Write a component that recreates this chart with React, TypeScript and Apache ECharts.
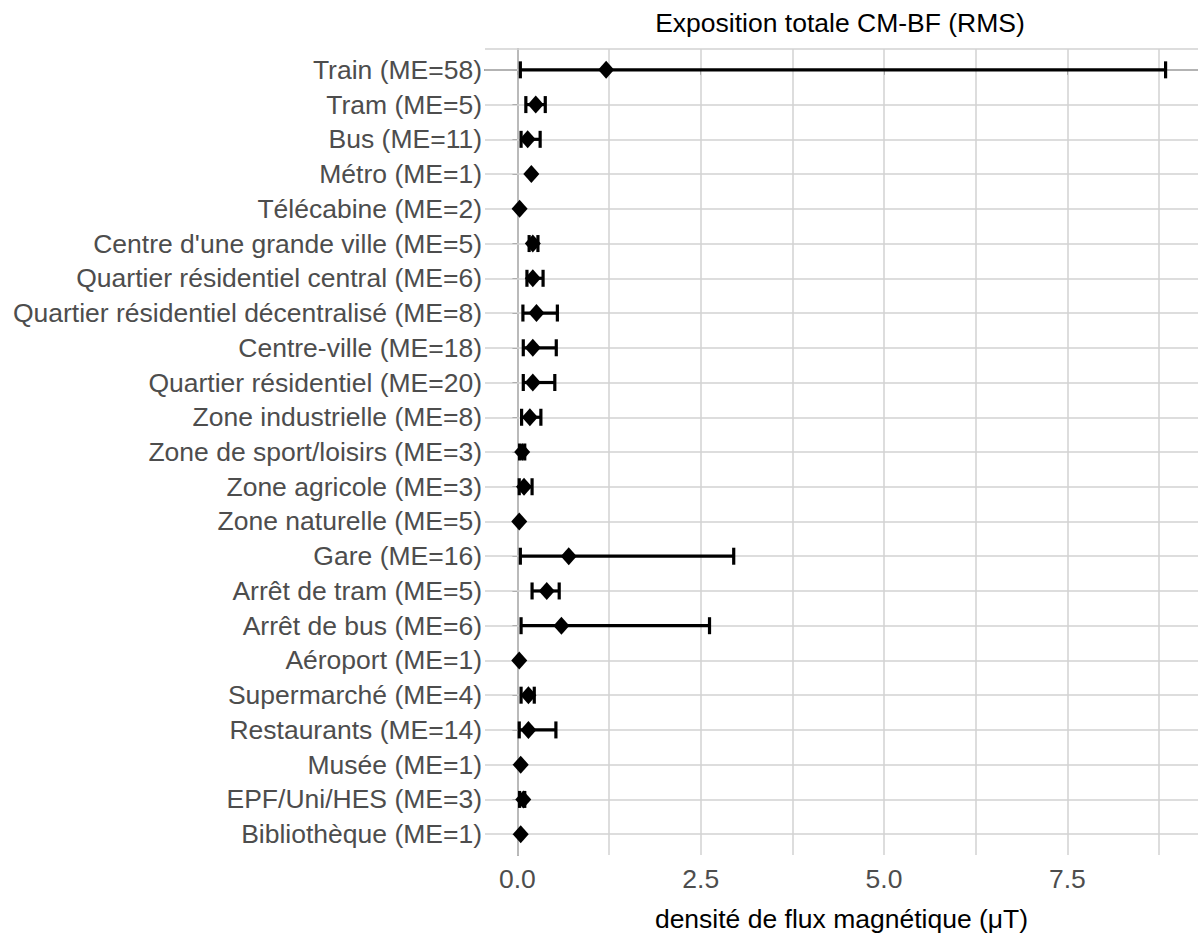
import React, { useEffect, useRef } from "react";
import * as echarts from "echarts";

const categories = [
  "Train (ME=58)",
  "Tram (ME=5)",
  "Bus (ME=11)",
  "Métro (ME=1)",
  "Télécabine (ME=2)",
  "Centre d'une grande ville (ME=5)",
  "Quartier résidentiel central (ME=6)",
  "Quartier résidentiel décentralisé (ME=8)",
  "Centre-ville (ME=18)",
  "Quartier résidentiel (ME=20)",
  "Zone industrielle (ME=8)",
  "Zone de sport/loisirs (ME=3)",
  "Zone agricole (ME=3)",
  "Zone naturelle (ME=5)",
  "Gare (ME=16)",
  "Arrêt de tram (ME=5)",
  "Arrêt de bus (ME=6)",
  "Aéroport (ME=1)",
  "Supermarché (ME=4)",
  "Restaurants (ME=14)",
  "Musée (ME=1)",
  "EPF/Uni/HES (ME=3)",
  "Bibliothèque (ME=1)",
];

const means = [1.21, 0.25, 0.14, 0.19, 0.03, 0.21, 0.21, 0.26, 0.21, 0.21, 0.17, 0.065, 0.09, 0.025, 0.7, 0.4, 0.6, 0.025, 0.15, 0.15, 0.045, 0.08, 0.045];
const lows: (number | null)[] = [0.04, 0.115, 0.05, null, null, 0.16, 0.13, 0.075, 0.08, 0.08, 0.057, 0.03, 0.025, null, 0.04, 0.2, 0.05, null, 0.05, 0.025, null, 0.03, null];
const highs: (number | null)[] = [8.84, 0.38, 0.31, null, null, 0.28, 0.35, 0.545, 0.53, 0.51, 0.32, 0.1, 0.2, null, 2.95, 0.57, 2.62, null, 0.23, 0.525, null, 0.1, null];

const xTicks = [0, 2.5, 5, 7.5];
const xMinorTicks = [1.25, 3.75, 6.25, 8.75];
const titleText = "Exposition totale CM-BF (RMS)";
const xTitle = "densité de flux magnétique (μT)";

const FONT = "Liberation Sans";
const FS = 26.5;

export default function App() {
  const ref = useRef<HTMLDivElement>(null);
  useEffect(() => {
    document.body.style.margin = "0";
    const chart = echarts.init(ref.current!, null, { renderer: "svg" });
    const idx = categories.map((_, i) => i);
    const errData: any[] = [];
    idx.forEach((i) => {
      if (lows[i] != null && highs[i] != null) errData.push([lows[i], highs[i], i]);
    });
    const gridLines: any[] = [];
    xTicks.concat(xMinorTicks).forEach((v) => gridLines.push({ xAxis: v }));
    idx.forEach((i) => gridLines.push({ yAxis: i }));
    gridLines.push({ yAxis: -0.6 });

    chart.setOption({
      animation: false,
      textStyle: { fontFamily: FONT },
      graphic: [
        {
          type: "text",
          x: 840,
          y: 23,
          z: 100,
          style: {
            text: titleText,
            fill: "#000",
            fontSize: FS,
            fontFamily: FONT,
            textAlign: "center",
            textVerticalAlign: "middle",
          },
        },
      ],
      grid: { left: 485, right: -4, top: 49, bottom: 63, containLabel: false },
      xAxis: {
        type: "value",
        min: -0.442,
        max: 9.282,
        splitLine: { show: false },
        axisLine: { show: true, lineStyle: { color: "#222", width: 1.5 } },
        axisTick: { show: true, length: 5, customValues: xTicks, lineStyle: { color: "#333" } },
        axisLabel: {
          customValues: xTicks,
          formatter: (v: number) => v.toFixed(1),
          color: "#4D4D4D",
          fontSize: FS,
          margin: 10,
          fontFamily: FONT,
        },
        name: xTitle,
        nameLocation: "middle",
        nameGap: 50,
        nameTextStyle: { color: "#000", fontSize: FS, fontFamily: FONT },
      },
      yAxis: {
        type: "value",
        inverse: true,
        min: -0.6,
        max: 22.6,
        splitLine: { show: false },
        axisLine: { show: true, lineStyle: { color: "#444", width: 1.5 } },
        axisTick: { show: true, length: 5, customValues: idx, lineStyle: { color: "#444" } },
        axisLabel: {
          customValues: idx,
          formatter: (v: number) => categories[Math.round(v)] ?? "",
          color: "#4D4D4D",
          fontSize: FS,
          margin: 3,
          fontFamily: FONT,
        },
      },
      series: [
        {
          type: "line",
          data: [],
          silent: true,
          z: 1,
          markLine: {
            silent: true,
            z: 1,
            symbol: "none",
            label: { show: false },
            lineStyle: { color: "#D2D2D2", width: 1.5, type: "solid" },
            data: gridLines,
          },
        },
        {
          type: "custom",
          z: 10,
          data: errData,
          encode: { x: [0, 1], y: 2 },
          renderItem: (params: any, api: any) => {
            const lo = api.value(0);
            const hi = api.value(1);
            const yi = api.value(2);
            const p1 = api.coord([lo, yi]);
            const p2 = api.coord([hi, yi]);
            const h = 8.5;
            return {
              type: "group",
              children: [
                { type: "line", shape: { x1: p1[0], y1: p1[1], x2: p2[0], y2: p2[1] }, style: { stroke: "#000", lineWidth: 3.2 } },
                { type: "line", shape: { x1: p1[0], y1: p1[1] - h, x2: p1[0], y2: p1[1] + h }, style: { stroke: "#000", lineWidth: 3.2 } },
                { type: "line", shape: { x1: p2[0], y1: p2[1] - h, x2: p2[0], y2: p2[1] + h }, style: { stroke: "#000", lineWidth: 3.2 } },
              ],
            };
          },
        },
        {
          type: "scatter",
          z: 11,
          symbol: "diamond",
          symbolSize: [16, 18],
          itemStyle: { color: "#000", opacity: 1 },
          data: idx.map((i) => [means[i], i]),
        },
      ],
    });
    return () => chart.dispose();
  }, []);
  return <div ref={ref} style={{ width: 1198, height: 937 }} />;
}
